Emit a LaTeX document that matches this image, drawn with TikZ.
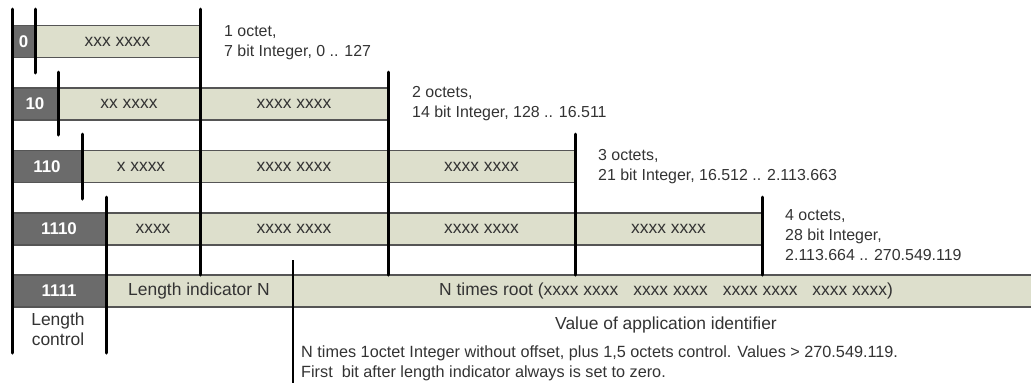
\documentclass[tikz,border=0pt]{standalone}
\usepackage{fontspec}
\setmainfont{Liberation Sans}
\definecolor{boxgray}{HTML}{6B6B6B}
\definecolor{barfill}{HTML}{DDDFCC}
\definecolor{edgegray}{HTML}{555555}
\definecolor{txt}{HTML}{333333}
\begin{document}
\begin{tikzpicture}[x=1bp,y=-1bp,
  cell/.style={minimum height=32bp, inner sep=0pt, outer sep=0pt, anchor=west},
  key/.style={cell, fill=boxgray, text=white, font=\bfseries\fontsize{17}{20}\selectfont},
  bar/.style={cell, fill=barfill, text=txt, font=\fontsize{17.5}{20}\selectfont},
  note/.style={anchor=north west, align=left, text=txt, font=\fontsize{16}{20}\selectfont, inner sep=0pt},
  big/.style={text=txt, font=\fontsize{17.5}{20}\selectfont, inner sep=0pt},
  sep/.style={line width=3bp, black, line cap=round},
  thinsep/.style={line width=1.5bp, black},
  rim/.style={line width=1.6bp, edgegray}]
\useasboundingbox (0,0) rectangle (1031,383);

% Row 1
\node[key, minimum width=23bp] (k1) at (12,41.5) {0};
\node[bar, minimum width=165bp] (b1a) at (35,41.5) {xxx xxxx};
% Row 2
\node[key, minimum width=46bp] (k2) at (12,104) {10};
\node[bar, minimum width=142bp] (b2a) at (58,104) {xx xxxx};
\node[bar, minimum width=188bp] (b2b) at (200,104) {xxxx xxxx};
% Row 3
\node[key, minimum width=70bp] (k3) at (12,166.5) {110};
\node[bar, minimum width=118bp] (b3a) at (82,166.5) {x xxxx};
\node[bar, minimum width=188bp] (b3b) at (200,166.5) {xxxx xxxx};
\node[bar, minimum width=187bp] (b3c) at (388,166.5) {xxxx xxxx};
% Row 4
\node[key, minimum width=94bp] (k4) at (12,229) {1110};
\node[bar, minimum width=94bp] (b4a) at (106,229) {xxxx};
\node[bar, minimum width=188bp] (b4b) at (200,229) {xxxx xxxx};
\node[bar, minimum width=187bp] (b4c) at (388,229) {xxxx xxxx};
\node[bar, minimum width=187bp] (b4d) at (575,229) {xxxx xxxx};
% Row 5
\node[key, minimum width=94bp] (k5) at (12,291) {1111};
\node[bar, minimum width=925bp] (b5) at (106,291) {};
\node[big, anchor=west] (len) at (128,291) {Length indicator N};
\node[big] (root) at (666,291)
  {N times root (xxxx xxxx\hspace{15bp}xxxx xxxx\hspace{15bp}xxxx xxxx\hspace{15bp}xxxx xxxx)};

% rims
\foreach \a/\b in {k1/b1a,k2/b2b,k3/b3c,k4/b4d,k5/b5}{
  \draw[rim] (\a.north west) -- (\b.north east);
  \draw[rim] (\a.south west) -- (\b.south east);
}

% separators
\draw[sep] (12,9) -- (12,353);
\draw[sep] (35,9) -- (35,73);
\draw[sep] (58,72) -- (58,135);
\draw[sep] (82,134) -- (82,199);
\draw[sep] (106,197) -- (106,353);
\draw[sep] (200,9) -- (200,275);
\draw[sep] (388,72) -- (388,275);
\draw[sep] (575,134) -- (575,275);
\draw[sep] (762,197) -- (762,275);
\draw[thinsep] (293,260) -- (293,383);

% notes
\node[note] (n1) at (224,25) {1 octet,\\7 bit Integer, 0 .. 127};
\node[note] (n2) at (412,86) {2 octets,\\14 bit Integer, 128 .. 16.511};
\node[note] (n3) at (598,149) {3 octets,\\21 bit Integer, 16.512 .. 2.113.663};
\node[note] (n4) at (785,209) {4 octets,\\28 bit Integer,\\2.113.664 .. 270.549.119};
\node[big, anchor=north, align=center] (lc) at (58,313) {Length\\control};
\node[big] (val) at (666,325) {Value of application identifier};
\node[note, font=\fontsize{16.3}{20}\selectfont] (n5) at (301,346) {N times 1octet Integer without offset, plus 1,5 octets control. Values > 270.549.119.\\First\ \ bit after length indicator always is set to zero.};
\end{tikzpicture}
\end{document}
